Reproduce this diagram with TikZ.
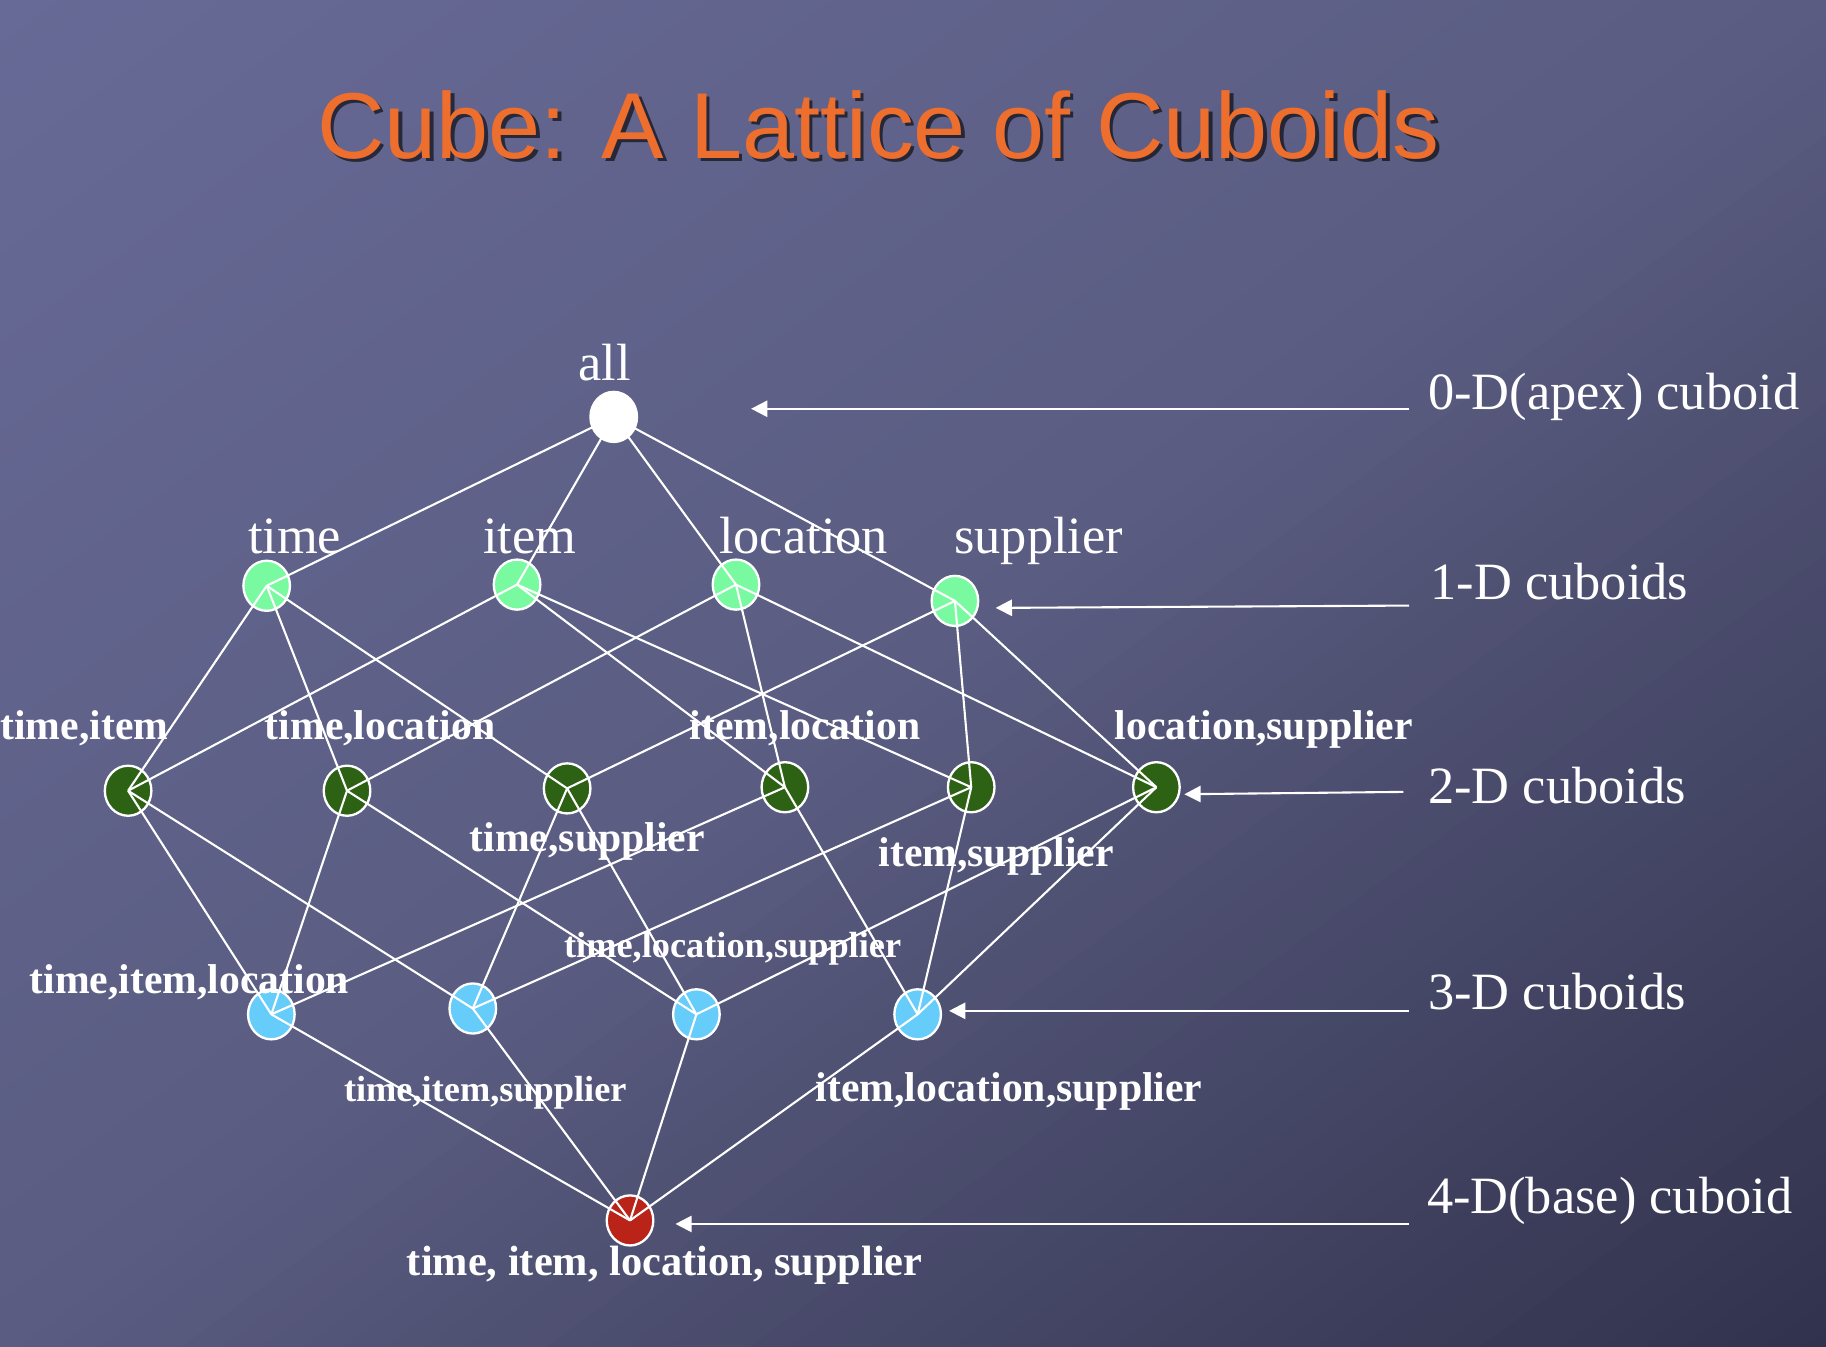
\documentclass[tikz,border=0pt]{standalone}
\usepackage{fontspec}
\setmainfont{Liberation Serif}
\newfontfamily\titlefont{Liberation Sans}
\usetikzlibrary{shapes.geometric,arrows.meta}
\definecolor{bgA}{RGB}{103,106,150}
\definecolor{bgM}{RGB}{90,92,129}
\definecolor{bgB}{RGB}{49,50,76}
\definecolor{titleor}{RGB}{238,110,45}
\definecolor{ltgreen}{RGB}{122,250,160}
\definecolor{dkgreen}{RGB}{45,97,20}
\definecolor{ltblue}{RGB}{102,204,250}
\definecolor{basered}{RGB}{186,36,24}
\tikzset{
  cub/.style={ellipse, draw=white, line width=1pt, minimum width=20pt, minimum height=21.5pt, inner sep=0pt},
  d0/.style={cub, fill=white},
  d1/.style={cub, fill=ltgreen},
  d2/.style={cub, fill=dkgreen},
  d3/.style={cub, fill=ltblue},
  d4/.style={cub, fill=basered},
  toplab/.style={anchor=base, inner sep=0pt, text=white, font=\fontsize{22.5pt}{26pt}\selectfont},
  sidelab/.style={anchor=base west, inner sep=0pt, text=white, font=\fontsize{22.5pt}{26pt}\selectfont},
  boldlab/.style={anchor=base west, inner sep=0pt, text=white, font=\fontsize{17.9pt}{20pt}\selectfont\bfseries},
  smalllab/.style={anchor=base west, inner sep=0pt, text=white, font=\fontsize{15.6pt}{18pt}\selectfont\bfseries},
  baselab/.style={anchor=base west, inner sep=0pt, text=white, font=\fontsize{18.2pt}{21pt}\selectfont\bfseries},
  edge/.style={draw=white, line width=0.9pt},
  levelarrow/.style={draw=white, line width=0.9pt, -{Triangle[length=7pt,width=7pt]}}
}
\begin{document}
\begin{tikzpicture}[x=0.5pt,y=-0.5pt]
\useasboundingbox (0,0) rectangle (1568,1156);
% diagonal background gradient (top-left light, bottom-right dark)
\begin{scope}
\clip (0,0) rectangle (1568,1156);
\fill[bgA] (0,0) rectangle (1568,1156);
\foreach \k in {1,...,45}{
  \pgfmathtruncatemacro\pct{\k/45*100}
  \colorlet{bandc}{bgM!\pct!bgA}
  \pgfmathsetmacro\pa{(\k-0.5)/90*1861}
  \pgfmathsetmacro\pb{2300}
  \fill[bandc] ({\pa*0.5934-2500*0.8049},{\pa*0.8049+2500*0.5934})
     -- ({\pa*0.5934+2500*0.8049},{\pa*0.8049-2500*0.5934})
     -- ({\pb*0.5934+2500*0.8049},{\pb*0.8049-2500*0.5934})
     -- ({\pb*0.5934-2500*0.8049},{\pb*0.8049+2500*0.5934}) -- cycle;
}
\foreach \k in {46,...,90}{
  \pgfmathtruncatemacro\pct{(\k-45)/45*100}
  \colorlet{bandc}{bgB!\pct!bgM}
  \pgfmathsetmacro\pa{(\k-0.5)/90*1861}
  \pgfmathsetmacro\pb{2300}
  \fill[bandc] ({\pa*0.5934-2500*0.8049},{\pa*0.8049+2500*0.5934})
     -- ({\pa*0.5934+2500*0.8049},{\pa*0.8049-2500*0.5934})
     -- ({\pb*0.5934+2500*0.8049},{\pb*0.8049-2500*0.5934})
     -- ({\pb*0.5934-2500*0.8049},{\pb*0.8049+2500*0.5934}) -- cycle;
}
\end{scope}
% title
\node[anchor=base west, inner sep=0pt, text=black, opacity=0.6, font=\fontsize{40.2pt}{46pt}\selectfont\titlefont] (titleshadow) at (275,139) {Cube: A Lattice of Cuboids};
\node[anchor=base west, inner sep=0pt, text=titleor, font=\fontsize{40.2pt}{46pt}\selectfont\titlefont] (title) at (272,136) {Cube: A Lattice of Cuboids};
% nodes
\node[d0] (all) at (527,358) {};
\node[d1] (t) at (229,503) {};
\node[d1] (i) at (444,502) {};
\node[d1] (l) at (632,502) {};
\node[d1] (s) at (820,516) {};
\node[d2] (ti) at (110,679) {};
\node[d2] (tl) at (298,679) {};
\node[d2] (ts) at (487,677) {};
\node[d2] (il) at (674,676) {};
\node[d2] (is) at (834,676) {};
\node[d2] (ls) at (993,676) {};
\node[d3] (til) at (233,871) {};
\node[d3] (tis) at (406,866) {};
\node[d3] (tls) at (598,871) {};
\node[d3] (ils) at (788,871) {};
\node[d4] (base) at (541,1048) {};
% labels
\node[toplab] (Lall) at (519,327) {all};
\node[toplab] (Lt) at (253,475) {time};
\node[toplab] (Li) at (455,475) {item};
\node[toplab] (Ll) at (690,475) {location};
\node[toplab] (Ls) at (892,475) {supplier};
\node[boldlab] (Lti) at (0,635) {time,item};
\node[boldlab] (Ltl) at (227,635) {time,location};
\node[boldlab] (Lil) at (592,635) {item,location};
\node[boldlab] (Lls) at (957,635) {location,supplier};
\node[boldlab] (Lts) at (403,731) {time,supplier};
\node[boldlab] (Lis) at (754,744) {item,supplier};
\node[boldlab] (Ltil) at (25,853) {time,item,location};
\node[smalllab] (Ltls) at (484,822) {time,location,supplier};
\node[smalllab] (Ltis) at (295,946) {time,item,supplier};
\node[boldlab] (Lils) at (700,946) {item,location,supplier};
\node[baselab] (Lbase) at (349,1095) {time, item, location, supplier};
% side labels
\node[sidelab] (S0) at (1226,352) {0-D(apex) cuboid};
\node[sidelab] (S1) at (1228,515) {1-D cuboids};
\node[sidelab] (S2) at (1226,690) {2-D cuboids};
\node[sidelab] (S3) at (1226,867) {3-D cuboids};
\node[sidelab] (S4) at (1225,1042) {4-D(base) cuboid};
% edges
\foreach \a/\b in {all/t,all/i,all/l,all/s,
  t/ti,t/tl,t/ts, i/ti,i/il,i/is, l/tl,l/il,l/ls, s/ts,s/is,s/ls,
  til/ti,til/tl,til/il, tis/ti,tis/ts,tis/is, tls/tl,tls/ts,tls/ls, ils/il,ils/is,ils/ls,
  base/til,base/tis,base/tls,base/ils}
  \draw[edge] (\a.center) -- (\b.center);
% level arrows
\coordinate (a0s) at (1210,351); \coordinate (a0e) at (645,351);
\coordinate (a1s) at (1210,520); \coordinate (a1e) at (855,522);
\coordinate (a2s) at (1205,680); \coordinate (a2e) at (1017,682);
\coordinate (a3s) at (1210,868); \coordinate (a3e) at (815,868);
\coordinate (a4s) at (1210,1051); \coordinate (a4e) at (580,1051);
\draw[levelarrow] (a0s) -- (a0e);
\draw[levelarrow] (a1s) -- (a1e);
\draw[levelarrow] (a2s) -- (a2e);
\draw[levelarrow] (a3s) -- (a3e);
\draw[levelarrow] (a4s) -- (a4e);
\end{tikzpicture}
\end{document}
